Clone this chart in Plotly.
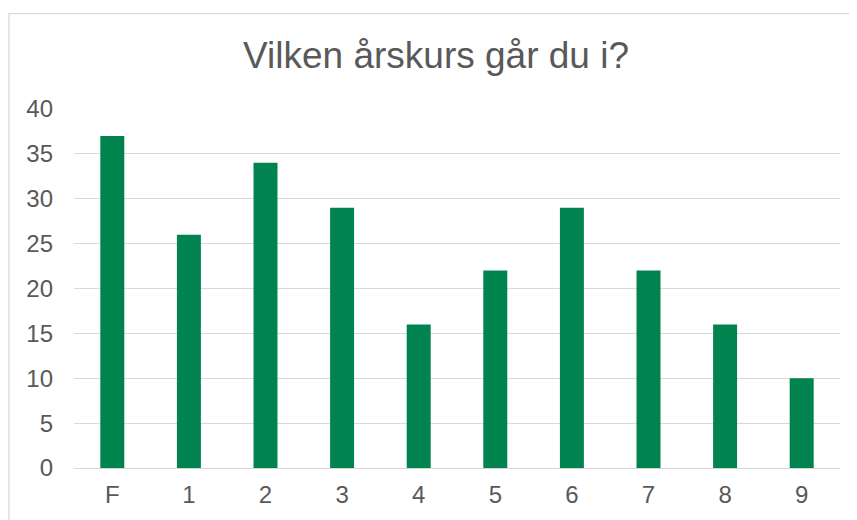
import plotly.graph_objects as go

categories = ["F", "1", "2", "3", "4", "5", "6", "7", "8", "9"]
values = [37, 26, 34, 29, 16, 22, 29, 22, 16, 10]
y_ticks = [0, 5, 10, 15, 20, 25, 30, 35, 40]

OFF = 8  # page body margin offset
W, H = 857 - OFF, 520 - OFF
# target screen positions of plot area
SX0, SX1, SY0, SY1 = 74, 840, 109, 470
L, R, T, B = SX0 - OFF, W - (SX1 - OFF), SY0 - OFF, H - (SY1 - OFF)
pw, ph = W - L - R, H - T - B

fig = go.Figure(go.Bar(x=categories, y=values, marker=dict(color="#00834F", line=dict(width=0)),
                       hoverinfo="x+y"))

fig.update_layout(
    width=W, height=H,
    margin=dict(l=L, r=R, t=T, b=B),
    paper_bgcolor="white", plot_bgcolor="white",
    bargap=0.687,
    showlegend=False,
    font=dict(family="Liberation Sans, Arial, sans-serif", color="#595959"),
    title=dict(text="Vilken årskurs går du i?", x=(436 - SX0) / pw, xref="paper", xanchor="center",
               y=1 - (55 - OFF) / H, yref="container", yanchor="middle",
               font=dict(size=37, color="#595959", family="Liberation Sans, Arial, sans-serif")),
    xaxis=dict(showgrid=False, showline=False, ticks="", tickfont=dict(size=24, color="#595959"),
               ticklabelstandoff=10, zeroline=False),
    yaxis=dict(range=[0, 40], tickvals=y_ticks, showgrid=True, gridcolor="#d9d9d9", gridwidth=1.3,
               zeroline=True, zerolinecolor="#d9d9d9", zerolinewidth=1.3, ticks="", showline=False,
               tickfont=dict(size=24, color="#595959"), ticklabelstandoff=20),
    shapes=[dict(type="rect", xref="paper", yref="paper",
                 x0=(9 - SX0) / pw, x1=(857 + 20 - SX0) / pw,
                 y0=-(520 + 20 - SY1) / ph, y1=(SY1 - 13) / ph,
                 line=dict(color="#d9d9d9", width=1.3), fillcolor="rgba(0,0,0,0)", layer="below")],
)

fig.write_html("out.html")
